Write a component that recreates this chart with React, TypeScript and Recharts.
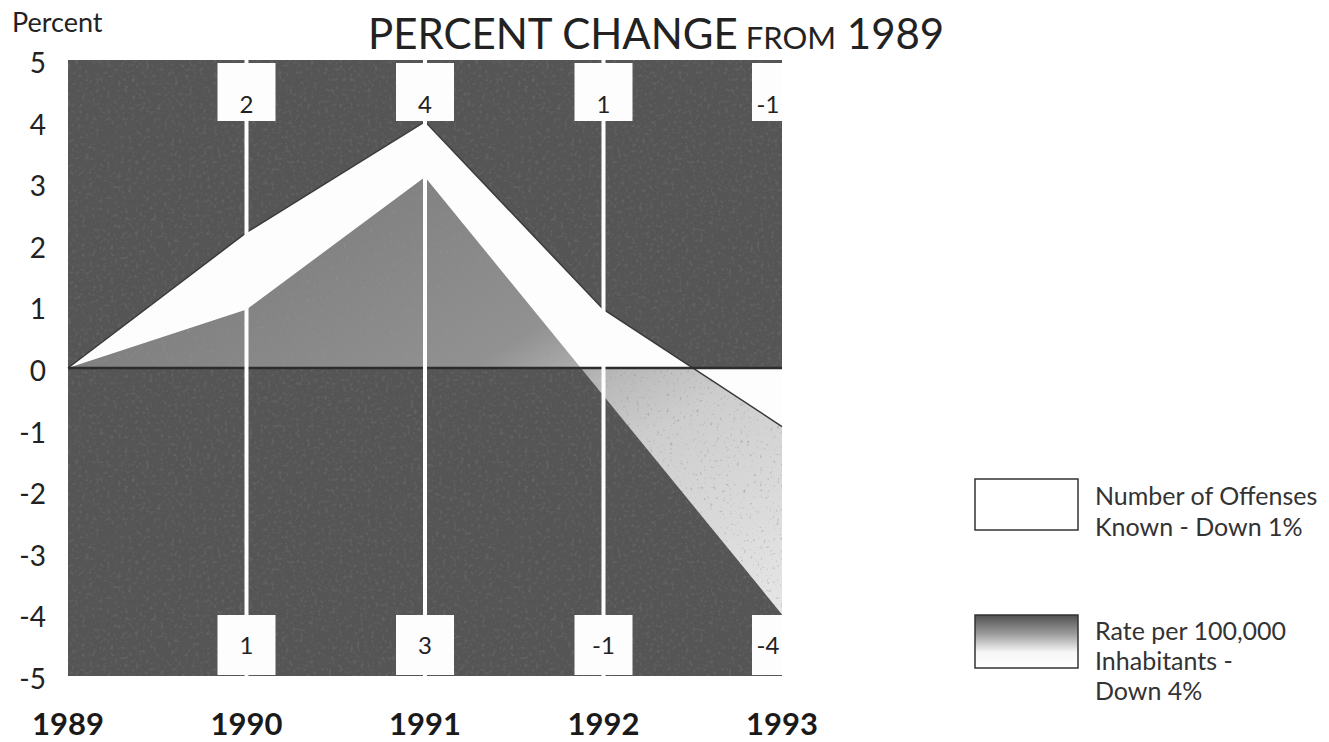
import React from "react";
import {
  ComposedChart,
  Area,
  XAxis,
  YAxis,
  CartesianGrid,
  ReferenceLine,
} from "recharts";

// ---- data ----
const years = [1989, 1990, 1991, 1992, 1993];
const offenses = [0, 2.2, 4.0, 0.95, -0.95];
const rate = [0, 0.95, 3.1, -0.45, -4.0];
const offenseLabels = ["", "2", "4", "1", "-1"];
const rateLabels = ["", "1", "3", "-1", "-4"];
const yTicks = [-5, -4, -3, -2, -1, 0, 1, 2, 3, 4, 5];
const xTicks = [1989, 1990, 1991, 1992, 1993];

const data = years.map((year, i) => ({ year, offenses: offenses[i], rate: rate[i] }));

const offMax = Math.max(...offenses);
const offMin = Math.min(...offenses);
const zeroOffset = offMax / (offMax - offMin);

const FONT = "Lato, 'Open Sans', sans-serif";

const YTick = (props: any) => {
  const { x, y, payload } = props;
  return (
    <text x={x} y={y + 2} textAnchor="end" dominantBaseline="central" fontSize={28} fontFamily={FONT} fill="#222">
      {payload.value}
    </text>
  );
};

const XTick = (props: any) => {
  const { x, y, payload } = props;
  return (
    <text x={x} y={y + 39} textAnchor="middle" dominantBaseline="central" fontSize={31} fontWeight={700} fontFamily={FONT} fill="#1a1a1a">
      {payload.value}
    </text>
  );
};

const BoxLabel = (props: any) => {
  const { viewBox, top, bottom, last } = props;
  if (!viewBox) return null;
  const { x, y, height } = viewBox;
  const w = last ? 30 : 58;
  const bx = last ? x - 30 : x - 29;
  const tx = last ? x - 14 : x;
  const bottomY = y + height;
  return (
    <g>
      <rect x={bx} y={y + 3} width={w} height={58} fill="#fdfdfd" />
      <text x={tx} y={y + 43} textAnchor="middle" dominantBaseline="central" fontSize={24} fontFamily={FONT} fill="#222">
        {top}
      </text>
      <rect x={bx} y={bottomY - 61} width={w} height={60} fill="#fdfdfd" />
      <text x={tx} y={bottomY - 32} textAnchor="middle" dominantBaseline="central" fontSize={24} fontFamily={FONT} fill="#222">
        {bottom}
      </text>
    </g>
  );
};

export default function App() {
  return (
    <div style={{ position: "absolute", left: 0, top: 0, width: 1329, height: 742, background: "#fff" }}>
      <ComposedChart
        width={1329}
        height={742}
        data={data}
        margin={{ top: 60, right: 547, bottom: 0, left: 0 }}
      >
        <defs>
          <filter id="noiseDark" x="0" y="0" width="100%" height="100%">
            <feTurbulence type="fractalNoise" baseFrequency="0.28" numOctaves="3" seed="4" />
            <feColorMatrix
              type="matrix"
              values="0 0 0 0 0.12  0 0 0 0 0.12  0 0 0 0 0.12  4.5 0 0 0 -2.45"
            />
          </filter>
          <filter id="noiseSoft" x="0" y="0" width="100%" height="100%">
            <feTurbulence type="fractalNoise" baseFrequency="0.3" numOctaves="3" seed="9" />
            <feColorMatrix
              type="matrix"
              values="0 0 0 0 0.3  0 0 0 0 0.3  0 0 0 0 0.3  4.5 0 0 0 -2.9"
            />
          </filter>
          <pattern id="bgSpeckle" patternUnits="userSpaceOnUse" x="0" y="0" width="400" height="400">
            <rect x="0" y="0" width="400" height="400" fill="#555555" />
            <rect x="0" y="0" width="400" height="400" filter="url(#noiseDark)" />
          </pattern>
          <pattern id="softSpeckle" patternUnits="userSpaceOnUse" x="0" y="0" width="400" height="400">
            <rect x="0" y="0" width="400" height="400" filter="url(#noiseSoft)" />
          </pattern>
          <linearGradient id="rateGrad" x1="0" y1="0" x2="1" y2="1">
            <stop offset="0" stopColor="#727272" />
            <stop offset="0.3" stopColor="#858585" />
            <stop offset="0.5" stopColor="#919191" />
            <stop offset="0.6" stopColor="#b6b6b6" />
            <stop offset="0.7" stopColor="#cdcdcd" />
            <stop offset="1" stopColor="#e6e6e6" />
          </linearGradient>
          <linearGradient id="splitWhite" x1="0" y1="0" x2="0" y2="1">
            <stop offset={0} stopColor="#fdfdfd" stopOpacity={0} />
            <stop offset={zeroOffset} stopColor="#fdfdfd" stopOpacity={0} />
            <stop offset={zeroOffset} stopColor="#fdfdfd" stopOpacity={1} />
            <stop offset={1} stopColor="#fdfdfd" stopOpacity={1} />
          </linearGradient>
        </defs>
        <CartesianGrid horizontal={false} vertical={false} fill="url(#bgSpeckle)" fillOpacity={1} />
        <XAxis
          dataKey="year"
          type="number"
          domain={[1989, 1993]}
          ticks={xTicks}
          axisLine={false}
          tickLine={false}
          height={66}
          tick={<XTick />}
          interval={0}
        />
        <YAxis
          type="number"
          domain={[-5, 5]}
          ticks={yTicks}
          axisLine={false}
          tickLine={false}
          width={68}
          tickMargin={16}
          tick={<YTick />}
          interval={0}
        />
        <Area
          type="linear"
          dataKey="offenses"
          baseValue={0}
          stroke="none"
          fill="#fdfdfd"
          fillOpacity={1}
          isAnimationActive={false}
          dot={false}
          activeDot={false}
        />
        <Area
          type="linear"
          dataKey="rate"
          baseValue={0}
          stroke="none"
          fill="url(#rateGrad)"
          fillOpacity={1}
          isAnimationActive={false}
          dot={false}
          activeDot={false}
        />
        <Area
          type="linear"
          dataKey="rate"
          baseValue={0}
          stroke="none"
          fill="url(#softSpeckle)"
          fillOpacity={0.6}
          isAnimationActive={false}
          dot={false}
          activeDot={false}
        />
        <Area
          type="linear"
          dataKey="offenses"
          baseValue={0}
          stroke="#3a3a3a"
          strokeWidth={1.5}
          fill="url(#splitWhite)"
          fillOpacity={1}
          isAnimationActive={false}
          dot={false}
          activeDot={false}
        />
        <ReferenceLine y={0} stroke="#2c2c2c" strokeWidth={2.5} />
        {years.slice(1).map((yr, i) => {
          const idx = i + 1;
          const last = idx === years.length - 1;
          return (
            <ReferenceLine
              key={yr}
              x={yr}
              stroke={last ? "transparent" : "#fdfdfd"}
              strokeWidth={last ? 0 : 4}
              label={<BoxLabel top={offenseLabels[idx]} bottom={rateLabels[idx]} last={last} />}
            />
          );
        })}
      </ComposedChart>

      <svg
        width={1329}
        height={742}
        style={{ position: "absolute", left: 0, top: 0, pointerEvents: "none" }}
      >
        <text x={12} y={32} fontSize={27} fontFamily={FONT} fill="#222">
          Percent
        </text>
        <text x={368} y={49} fontSize={42} fontFamily={FONT} fill="#222">
          PERCENT CHANGE
          <tspan fontSize={31}> FROM</tspan>
          <tspan fontSize={42}> 1989</tspan>
        </text>

        <defs>
          <linearGradient id="legendGrad" x1="0" y1="0" x2="0" y2="1">
            <stop offset="0" stopColor="#505050" />
            <stop offset="0.35" stopColor="#9a9a9a" />
            <stop offset="0.7" stopColor="#f6f6f6" />
            <stop offset="1" stopColor="#ffffff" />
          </linearGradient>
        </defs>
        <rect x={975} y={479} width={103} height={51} fill="#fff" stroke="#333" strokeWidth={1.5} />
        <text fontSize={25} fontFamily={FONT} fill="#333">
          <tspan x={1095} y={505}>Number of Offenses</tspan>
          <tspan x={1095} y={536}>Known - Down 1%</tspan>
        </text>

        <rect x={975} y={615} width={103} height={53} fill="url(#legendGrad)" stroke="#333" strokeWidth={1.5} />
        <text fontSize={25} fontFamily={FONT} fill="#333">
          <tspan x={1095} y={640}>Rate per 100,000</tspan>
          <tspan x={1095} y={670}>Inhabitants -</tspan>
          <tspan x={1095} y={700}>Down 4%</tspan>
        </text>
      </svg>
    </div>
  );
}
